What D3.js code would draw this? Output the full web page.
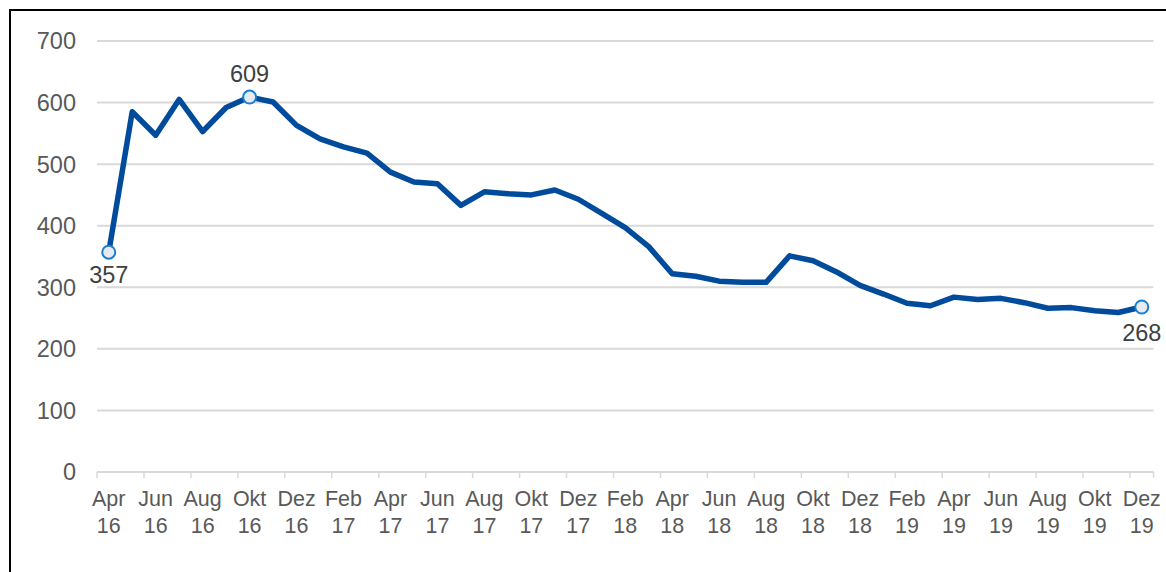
<!DOCTYPE html>
<html><head><meta charset="utf-8">
<script src="https://cdn.jsdelivr.net/npm/d3@7"></script>
<style>body{margin:0;background:#fff;}svg{display:block;font-family:"Liberation Sans",Arial,sans-serif;}</style>
</head><body><svg id="c" width="1166" height="572"></svg>
<script>
const months = ["Apr 16","Mai 16","Jun 16","Jul 16","Aug 16","Sep 16","Okt 16","Nov 16","Dez 16",
"Jan 17","Feb 17","Mär 17","Apr 17","Mai 17","Jun 17","Jul 17","Aug 17","Sep 17","Okt 17","Nov 17","Dez 17",
"Jan 18","Feb 18","Mär 18","Apr 18","Mai 18","Jun 18","Jul 18","Aug 18","Sep 18","Okt 18","Nov 18","Dez 18",
"Jan 19","Feb 19","Mär 19","Apr 19","Mai 19","Jun 19","Jul 19","Aug 19","Sep 19","Okt 19","Nov 19","Dez 19"];
const values = [357,585,547,605,553,592,609,601,563,
541,528,518,487,471,468,433,455,452,450,458,443,
420,397,366,322,318,310,308,308,351,343,325,303,
289,274,270,284,280,282,275,266,267,262,259,268];
const yTicks = [0,100,200,300,400,500,600,700];
const labeledIdx = [0,6,44];

const svg = d3.select("#c");
const mLeft = 97, mRight = 1153.5, mTop = 41, mBottom = 472;
const x = d3.scaleBand().domain(months).range([mLeft,mRight]);
const y = d3.scaleLinear().domain([0,700]).range([mBottom,mTop]);
const cx = m => x(m) + x.bandwidth()/2;

// frame
svg.append("path").attr("d","M10,572 L10,10 L1166,10").attr("fill","none").attr("stroke","#000").attr("stroke-width",2);

// grid
svg.append("g").selectAll("line").data(yTicks).join("line")
  .attr("x1",mLeft).attr("x2",mRight).attr("y1",d=>y(d)).attr("y2",d=>y(d))
  .attr("stroke","#d9d9d9").attr("stroke-width",2);
svg.append("g").selectAll("text").data(yTicks).join("text")
  .attr("x",76).attr("y",d=>y(d)).attr("dy","0.36em").attr("text-anchor","end")
  .attr("font-size",23.5).attr("fill","#595959").text(d=>d);

// x ticks
const tickMonths = months.filter((m,i)=>i%2===0);
svg.append("g").selectAll("line").data(tickMonths).join("line")
  .attr("x1",d=>x(d)).attr("x2",d=>x(d)).attr("y1",mBottom).attr("y2",mBottom+6)
  .attr("stroke","#d9d9d9").attr("stroke-width",1.5);
svg.append("line").attr("x1",mRight).attr("x2",mRight).attr("y1",mBottom).attr("y2",mBottom+6)
  .attr("stroke","#d9d9d9").attr("stroke-width",1.5);
const xl = svg.append("g").selectAll("text").data(tickMonths).join("text")
  .attr("text-anchor","middle").attr("font-size",21.5).attr("fill","#595959");
xl.append("tspan").attr("x",d=>cx(d)).attr("y",506).text(d=>d.split(" ")[0]);
xl.append("tspan").attr("x",d=>cx(d)).attr("y",533).text(d=>d.split(" ")[1]);

// line
const line = d3.line().x((d,i)=>cx(months[i])).y(d=>y(d));
svg.append("path").datum(values).attr("d",line).attr("fill","none")
  .attr("stroke","#004b9b").attr("stroke-width",5.5).attr("stroke-linejoin","round");

// markers
svg.append("g").selectAll("circle").data(labeledIdx).join("circle")
  .attr("cx",i=>cx(months[i])).attr("cy",i=>y(values[i])).attr("r",6.5)
  .attr("fill","#e8eaf3").attr("stroke","#1b7fcf").attr("stroke-width",2);
const lblOff = {0:[0,31],6:[0,-15],44:[0,34]};
svg.append("g").selectAll("text").data(labeledIdx).join("text")
  .attr("x",i=>cx(months[i])+lblOff[i][0]).attr("y",i=>y(values[i])+lblOff[i][1])
  .attr("text-anchor","middle").attr("font-size",23.5).attr("fill","#404040").text(i=>values[i]);
</script></body></html>
